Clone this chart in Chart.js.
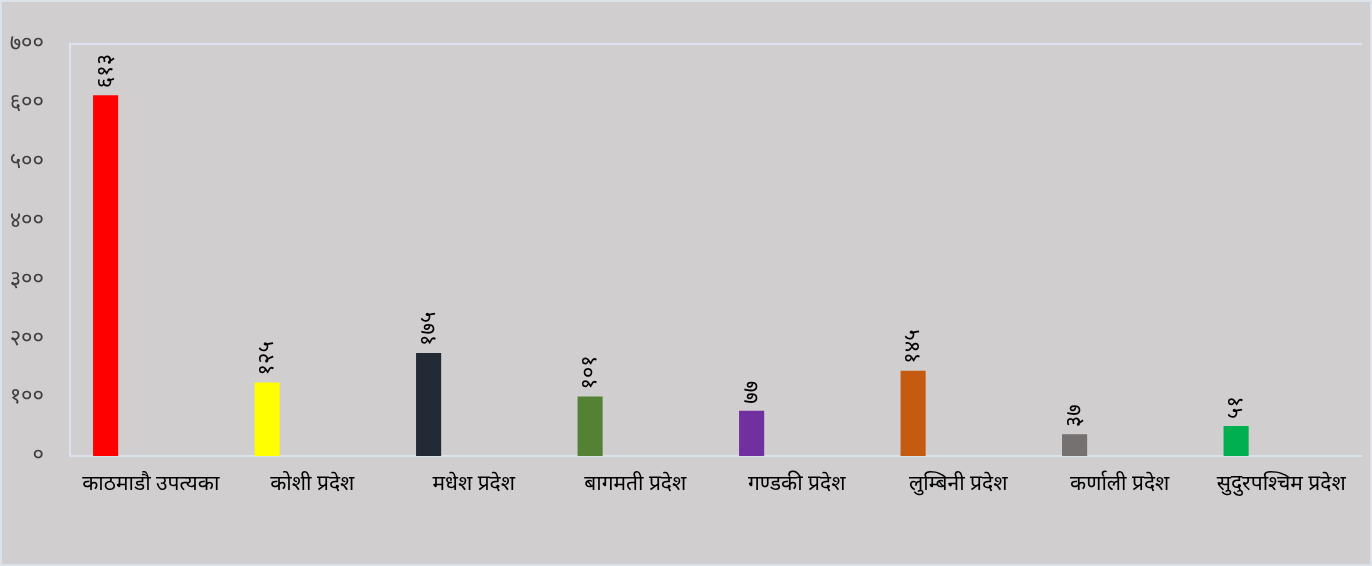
<!DOCTYPE html>
<html>
<head>
<meta charset="utf-8">
<script src="https://cdn.jsdelivr.net/npm/chart.js@4/dist/chart.umd.min.js"></script>
<style>
    html, body { margin: 0; padding: 0; background: #D0CECE; }
    #wrap { width: 1368px; height: 562px; border: 2px solid #DCE2EA; position: relative; }
</style>
</head>
<body>
<div id="wrap"><canvas id="data_summary_chart" width="1368" height="562"></canvas></div>
<script>
    'use strict';

    // प्रदेशहरू
    var labelList = ['काठमाडौ उपत्यका', 'कोशी प्रदेश', 'मधेश प्रदेश', 'बागमती प्रदेश',
                     'गण्डकी प्रदेश', 'लुम्बिनी प्रदेश', 'कर्णाली प्रदेश', 'सुदुरपश्चिम प्रदेश'];
    var valueList = [613, 125, 175, 101, 77, 145, 37, 51];
    var colorList = ['#FF0000', '#FFFF00', '#222A35', '#548235', '#7030A0', '#C55A11', '#767171', '#00B050'];
    var yTicks = [0, 100, 200, 300, 400, 500, 600, 700];

    var nepDigits = ['०', '१', '२', '३', '४', '५', '६', '७', '८', '९'];
    function toNepali(n) {
        return String(n).replace(/[0-9]/g, function (d) { return nepDigits[+d]; });
    }

    var FONT = "'Noto Sans', 'Noto Sans Devanagari', 'DejaVu Sans', sans-serif";

    // अंक लेबल (ठाडो)
    var barLabels = {
        id: 'barLabels',
        afterDatasetsDraw: function (chart) {
            var ctx = chart.ctx;
            var meta = chart.getDatasetMeta(0);
            ctx.save();
            ctx.fillStyle = '#000000';
            ctx.font = '22px ' + FONT;
            ctx.textAlign = 'left';
            ctx.textBaseline = 'middle';
            meta.data.forEach(function (bar, i) {
                ctx.save();
                ctx.translate(bar.x, bar.y - 7);
                ctx.rotate(-Math.PI / 2);
                ctx.fillText(toNepali(valueList[i]), 0, 0);
                ctx.restore();
            });
            ctx.restore();
        }
    };

    // प्लट क्षेत्रको किनारा
    var plotFrame = {
        id: 'plotFrame',
        beforeDatasetsDraw: function (chart) {
            var a = chart.chartArea, ctx = chart.ctx;
            ctx.save();
            ctx.strokeStyle = '#DCE3EE';
            ctx.lineWidth = 2;
            ctx.beginPath();
            ctx.moveTo(a.right, a.top);
            ctx.lineTo(a.left, a.top);
            ctx.lineTo(a.left, a.bottom);
            ctx.lineTo(a.right, a.bottom);
            ctx.stroke();
            ctx.restore();
        }
    };

    new Chart(document.getElementById('data_summary_chart'), {
        type: 'bar',
        data: {
            labels: labelList,
            datasets: [{
                backgroundColor: colorList,
                borderColor: colorList,
                borderWidth: 0,
                data: valueList,
                categoryPercentage: 1.118,
                barPercentage: 0.278
            }, {
                backgroundColor: 'transparent',
                data: labelList.map(function () { return null; }),
                categoryPercentage: 1.118,
                barPercentage: 0.278
            }]
        },
        options: {
            responsive: false,
            animation: false,
            layout: { padding: { top: 42, right: 8, left: 0, bottom: 0 } },
            plugins: { legend: { display: false }, tooltip: { enabled: false } },
            scales: {
                x: {
                    grid: { display: false, drawTicks: false },
                    border: { display: false },
                    ticks: {
                        color: '#000000',
                        font: { family: FONT, size: 21 },
                        padding: 15,
                        maxRotation: 0,
                        autoSkip: false
                    },
                    afterFit: function (s) { s.height = 108; }
                },
                y: {
                    min: 0,
                    max: 700,
                    grid: { display: false, drawTicks: false },
                    border: { display: false },
                    afterBuildTicks: function (s) {
                        s.ticks = yTicks.map(function (v) { return { value: v }; });
                    },
                    ticks: {
                        color: '#404040',
                        font: { family: FONT, size: 22 },
                        padding: 26,
                        callback: function (v) { return toNepali(v); }
                    },
                    afterFit: function (s) { s.width = 68; }
                }
            }
        },
        plugins: [barLabels, plotFrame]
    });
</script>
</body>
</html>
